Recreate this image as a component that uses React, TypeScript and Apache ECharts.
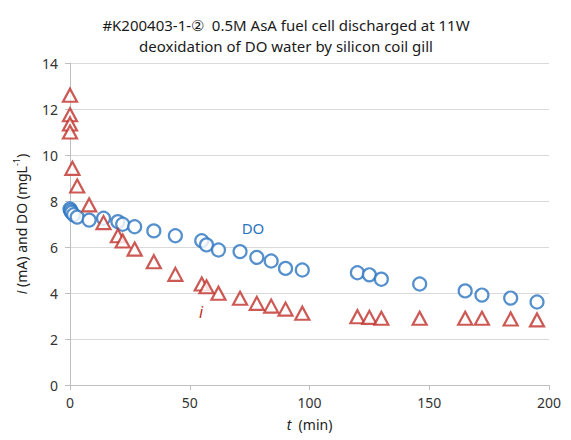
import React, { useEffect, useRef } from "react";
import * as echarts from "echarts";

const titleLine1 = "#K200403-1-②  0.5M AsA fuel cell discharged at 11W";
const titleLine2 = "deoxidation of DO water by silicon coil gill";

const tI = [0, 0, 0, 0, 1, 3, 8, 14, 20, 22, 27, 35, 44, 55, 57, 62, 71, 78, 84, 90, 97, 120, 125, 130, 146, 165, 172, 184, 195];
const iValues = [12.6, 11.75, 11.35, 11.0, 9.42, 8.65, 7.83, 7.06, 6.49, 6.26, 5.91, 5.36, 4.81, 4.39, 4.27, 3.99, 3.77, 3.55, 3.43, 3.3, 3.12, 2.97, 2.94, 2.9, 2.9, 2.9, 2.9, 2.87, 2.83];

const tDO = [0, 0.3, 0.7, 1.5, 3, 8, 14, 20, 22, 27, 35, 44, 55, 57, 62, 71, 78, 84, 90, 97, 120, 125, 130, 146, 165, 172, 184, 195];
const doValues = [7.65, 7.58, 7.5, 7.4, 7.3, 7.17, 7.25, 7.1, 6.99, 6.88, 6.7, 6.49, 6.27, 6.09, 5.87, 5.8, 5.55, 5.39, 5.07, 5.0, 4.88, 4.79, 4.6, 4.39, 4.09, 3.91, 3.78, 3.61];

const BLUE = "#2a74c0";
const RED = "#bf2f29";
const FONT = "Noto Sans";

export default function App() {
  const ref = useRef<HTMLDivElement>(null);
  useEffect(() => {
    document.body.style.margin = "0";
    if (!ref.current) return;
    const chart = echarts.init(ref.current, null, { renderer: "svg" });
    chart.setOption({
      animation: false,
      backgroundColor: "#ffffff",
      textStyle: { fontFamily: FONT },
      title: {
        text: titleLine1 + "\n" + titleLine2,
        left: 281,
        textAlign: "center",
        top: 9,
        textStyle: { fontSize: 15, fontWeight: "normal", color: "#1a1a1a", lineHeight: 21, fontFamily: FONT },
      },
      grid: { left: 70, right: 22, top: 63, bottom: 55 },
      xAxis: {
        type: "value",
        min: 0,
        max: 200,
        interval: 50,
        name: "{it|t}  (min)",
        nameLocation: "middle",
        nameGap: 32,
        nameTextStyle: {
          fontSize: 14,
          color: "#222",
          rich: { it: { fontStyle: "italic", fontSize: 14, color: "#222" } },
        },
        axisLine: { show: true, lineStyle: { color: "#bfbfbf", width: 1 } },
        axisTick: { show: true, length: 5, lineStyle: { color: "#bfbfbf" } },
        axisLabel: { fontSize: 14, color: "#333", margin: 10 },
        splitLine: { show: false },
      },
      yAxis: {
        type: "value",
        min: 0,
        max: 14,
        interval: 2,
        name: "{it|i} (mA) and DO (mgL{sup|-1})",
        nameLocation: "middle",
        nameGap: 40,
        nameRotate: 90,
        nameTextStyle: {
          fontSize: 14,
          color: "#222",
          lineHeight: 18,
          rich: {
            it: { fontStyle: "italic", fontSize: 14, color: "#222", lineHeight: 18 },
            sup: { fontSize: 9, color: "#222", verticalAlign: "top", lineHeight: 18 },
          },
        },
        axisLine: { show: true, lineStyle: { color: "#bfbfbf", width: 1 } },
        axisTick: { show: true, length: 5, lineStyle: { color: "#bfbfbf" } },
        axisLabel: { fontSize: 14, color: "#333", margin: 12 },
        splitLine: { show: true, lineStyle: { color: "#d9d9d9", width: 1 } },
      },
      series: [
        {
          name: "DO",
          type: "scatter",
          symbol: "circle",
          symbolSize: 13,
          itemStyle: { color: "#ffffff", borderColor: BLUE, borderWidth: 2.2 },
          data: tDO.map((t, k) => [t, doValues[k]]),
          z: 3,
        },
        {
          name: "i",
          type: "scatter",
          symbol: "triangle",
          symbolSize: [14, 13],
          itemStyle: { color: "#ffffff", borderColor: RED, borderWidth: 2.2 },
          data: tI.map((t, k) => [t, iValues[k]]),
          z: 4,
        },
      ],
      graphic: [
        {
          type: "text",
          x: 253,
          y: 228,
          style: { text: "DO", fontSize: 15, fill: BLUE, align: "center", verticalAlign: "middle", fontFamily: FONT },
        },
        {
          type: "text",
          x: 201,
          y: 312,
          style: { text: "i", fontSize: 16, fontStyle: "italic", fill: RED, align: "center", verticalAlign: "middle", fontFamily: FONT },
        },
      ],
    });
    return () => chart.dispose();
  }, []);
  return <div ref={ref} style={{ width: 571, height: 440 }} />;
}
